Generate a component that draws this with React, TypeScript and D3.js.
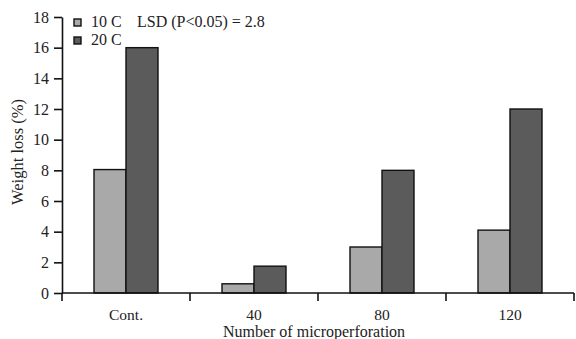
import React, { useEffect, useRef } from "react";
import * as d3 from "d3";

const categories = ["Cont.", "40", "80", "120"];
const series10 = [8.05, 0.6, 3.0, 4.1];
const series20 = [16.0, 1.75, 8.0, 12.0];
const seriesNames = ["10 C", "20 C"];
const yTicks = [0, 2, 4, 6, 8, 10, 12, 14, 16, 18];

const W = 576;
const H = 339;
const font = "'Liberation Serif', 'Times New Roman', serif";

export default function App() {
  const ref = useRef<SVGSVGElement>(null);

  useEffect(() => {
    const svg = d3.select(ref.current);
    svg.selectAll("*").remove();

    const margin = { top: 17, right: 2, bottom: 46, left: 62 };
    const innerW = W - margin.left - margin.right;
    const innerH = H - margin.top - margin.bottom;

    const g = svg.append("g").attr("transform", `translate(${margin.left},${margin.top})`);

    const x = d3.scaleBand().domain(categories).range([0, innerW]);
    const x1 = d3.scaleBand().domain(seriesNames).range([x.bandwidth() / 2 - 32, x.bandwidth() / 2 + 32]);
    const y = d3.scaleLinear().domain([0, 18]).range([innerH, 0]);
    const colors = ["#a9a9a9", "#5b5b5b"];

    const data = categories.map((c, i) => ({ c, vals: [series10[i], series20[i]] }));

    // bars
    data.forEach((d) => {
      d.vals.forEach((v, j) => {
        g.append("rect")
          .attr("x", x(d.c)! + x1(seriesNames[j])!)
          .attr("y", y(v))
          .attr("width", x1.bandwidth())
          .attr("height", y(0) - y(v))
          .attr("fill", colors[j])
          .attr("stroke", "#111")
          .attr("stroke-width", 1.4);
      });
    });

    // y axis
    const yAxis = g.append("g").call(d3.axisLeft(y).tickValues(yTicks).tickSize(8).tickPadding(5).tickSizeOuter(0));
    yAxis.select(".domain").attr("stroke", "#111").attr("stroke-width", 1.6);
    yAxis.selectAll(".tick line").attr("stroke", "#111").attr("stroke-width", 1.6);
    yAxis.selectAll(".tick text").attr("font-family", font).attr("font-size", 16).attr("fill", "#222");

    // x axis
    const xAxis = g.append("g").attr("transform", `translate(0,${innerH})`);
    xAxis.append("line").attr("x1", 0).attr("x2", innerW).attr("stroke", "#111").attr("stroke-width", 1.6);
    const bounds = [0, ...categories.map((c) => x(c)! + x.bandwidth())];
    bounds.forEach((b) => {
      xAxis.append("line").attr("x1", b).attr("x2", b).attr("y1", 0).attr("y2", 8).attr("stroke", "#111").attr("stroke-width", 1.6);
    });
    categories.forEach((c) => {
      xAxis.append("text")
        .attr("x", x(c)! + x.bandwidth() / 2)
        .attr("y", 26.5)
        .attr("text-anchor", "middle")
        .attr("font-family", font)
        .attr("font-size", 15.5)
        .attr("fill", "#222")
        .text(c);
    });

    svg.append("text")
      .attr("x", 314)
      .attr("y", H - 2)
      .attr("text-anchor", "middle")
      .attr("font-family", font)
      .attr("font-size", 16)
      .attr("fill", "#222")
      .text("Number of microperforation");

    svg.append("text")
      .attr("transform", `translate(23,152) rotate(-90)`)
      .attr("text-anchor", "middle")
      .attr("font-family", font)
      .attr("font-size", 16.5)
      .attr("fill", "#222")
      .text("Weight loss (%)");

    // legend
    seriesNames.forEach((s, i) => {
      const ly = 22 + i * 18;
      svg.append("rect")
        .attr("x", 74)
        .attr("y", ly - 3)
        .attr("width", 7)
        .attr("height", 7)
        .attr("fill", colors[i])
        .attr("stroke", "#111")
        .attr("stroke-width", 1.4);
      svg.append("text")
        .attr("x", 91)
        .attr("y", ly + 5)
        .attr("font-family", font)
        .attr("font-size", 16)
        .attr("fill", "#222")
        .text(s);
    });
    svg.append("text")
      .attr("x", 137)
      .attr("y", 27)
      .attr("font-family", font)
      .attr("font-size", 16)
      .attr("fill", "#222")
      .text("LSD (P<0.05) = 2.8");
  }, []);

  return (
    <svg
      ref={ref}
      width={W}
      height={H}
      style={{ position: "absolute", left: 0, top: 0, background: "#fff" }}
    />
  );
}
